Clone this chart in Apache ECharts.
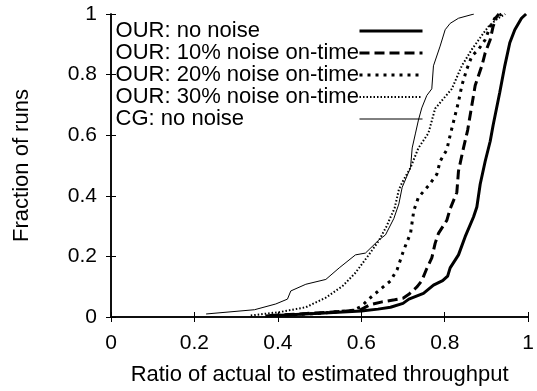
<!DOCTYPE html>
<html>
<head>
<meta charset="utf-8">
<script src="https://cdn.jsdelivr.net/npm/echarts@6/dist/echarts.min.js"></script>
<style>
  html, body { margin: 0; padding: 0; background: #fff; }
  #chart { width: 537px; height: 391px; }
</style>
</head>
<body>
<div id="chart"></div>
<script>
// Cumulative fraction of runs vs. ratio of actual to estimated throughput
const seriesNames = [
  'OUR: no noise',
  'OUR: 10% noise on-time',
  'OUR: 20% noise on-time',
  'OUR: 30% noise on-time',
  'CG: no noise'
];
const tickValues = [0, 0.2, 0.4, 0.6, 0.8, 1];

const ourNoNoiseRatio = [0.37, 0.42, 0.5, 0.6, 0.64, 0.67, 0.7, 0.714, 0.749, 0.773, 0.795, 0.807, 0.813, 0.833, 0.849, 0.869, 0.877, 0.885, 0.897, 0.909, 0.916, 0.932, 0.944, 0.956, 0.968, 0.984, 0.995];
const ourNoNoiseFrac  = [0.003, 0.007, 0.012, 0.02, 0.026, 0.032, 0.045, 0.059, 0.078, 0.105, 0.12, 0.135, 0.162, 0.205, 0.265, 0.33, 0.363, 0.438, 0.514, 0.58, 0.633, 0.742, 0.829, 0.905, 0.948, 0.986, 1.0];

const our10Ratio = [0.38, 0.45, 0.55, 0.6, 0.62, 0.65, 0.68, 0.7, 0.714, 0.734, 0.745, 0.757, 0.769, 0.777, 0.785, 0.805, 0.813, 0.829, 0.833, 0.845, 0.855, 0.865, 0.873, 0.889, 0.897, 0.909, 0.916, 0.924, 0.93];
const our10Frac  = [0.005, 0.01, 0.018, 0.025, 0.04, 0.05, 0.057, 0.062, 0.075, 0.1, 0.12, 0.16, 0.195, 0.243, 0.276, 0.319, 0.357, 0.411, 0.482, 0.558, 0.617, 0.699, 0.764, 0.829, 0.872, 0.915, 0.959, 0.99, 1.0];

const our20Ratio = [0.4, 0.5, 0.58, 0.6, 0.618, 0.646, 0.67, 0.686, 0.702, 0.718, 0.726, 0.737, 0.761, 0.781, 0.789, 0.805, 0.813, 0.825, 0.833, 0.841, 0.853, 0.865, 0.881, 0.897, 0.909, 0.92, 0.936];
const our20Frac  = [0.005, 0.012, 0.022, 0.035, 0.059, 0.092, 0.119, 0.157, 0.222, 0.276, 0.352, 0.395, 0.433, 0.471, 0.514, 0.552, 0.6, 0.666, 0.71, 0.764, 0.818, 0.861, 0.883, 0.915, 0.959, 0.986, 1.0];

const our30Ratio = [0.335, 0.403, 0.467, 0.515, 0.555, 0.586, 0.618, 0.642, 0.66, 0.68, 0.69, 0.698, 0.718, 0.737, 0.761, 0.777, 0.817, 0.841, 0.865, 0.893, 0.905, 0.928, 0.945];
const our30Frac  = [0.005, 0.016, 0.032, 0.064, 0.102, 0.146, 0.205, 0.252, 0.298, 0.36, 0.42, 0.444, 0.493, 0.558, 0.607, 0.688, 0.753, 0.829, 0.883, 0.937, 0.959, 0.986, 1.0];

const cgRatio = [0.228, 0.344, 0.395, 0.423, 0.431, 0.467, 0.515, 0.547, 0.586, 0.61, 0.642, 0.658, 0.678, 0.69, 0.698, 0.718, 0.722, 0.73, 0.737, 0.745, 0.757, 0.769, 0.773, 0.789, 0.801, 0.813, 0.833, 0.87];
const cgFrac  = [0.01, 0.024, 0.043, 0.059, 0.086, 0.108, 0.124, 0.162, 0.205, 0.211, 0.254, 0.271, 0.325, 0.373, 0.428, 0.493, 0.558, 0.607, 0.65, 0.69, 0.731, 0.753, 0.829, 0.894, 0.948, 0.969, 0.986, 1.0];

const ratios = [ourNoNoiseRatio, our10Ratio, our20Ratio, our30Ratio, cgRatio];
const fracs  = [ourNoNoiseFrac, our10Frac, our20Frac, our30Frac, cgFrac];

const lineStyles = [
  { width: 3, type: 'solid' },
  { width: 3, type: [10, 5] },
  { width: 3, type: [3, 5] },
  { width: 2, type: [1.5, 2] },
  { width: 1, type: 'solid' }
];

const FONT = '"Liberation Sans", Arial, Helvetica, sans-serif';
const FS = 21;
const FS_TEXT = 22;

const pairs = (xs, ys) => xs.map((x, i) => [x, ys[i]]);

const chart = echarts.init(document.getElementById('chart'), null, { renderer: 'canvas' });

const axisCommon = {
  type: 'value', min: 0, max: 1, interval: 0.2,
  splitLine: { show: false },
  axisLine: { show: true, lineStyle: { color: '#000', width: 1.5 } },
  axisTick: { show: true, inside: true, length: 5, lineStyle: { color: '#000', width: 1 } },
  axisLabel: {
    color: '#000', fontSize: FS, fontFamily: FONT,
    formatter: v => String(tickValues.find(t => Math.abs(t - v) < 1e-9) ?? v)
  }
};

const legendText = {
  color: '#000', fontSize: FS_TEXT, fontFamily: FONT, lineHeight: 21.5
};

chart.setOption({
  animation: false,
  backgroundColor: '#fff',
  grid: { left: 111, right: 7, top: 14, bottom: 69.5, containLabel: false },
  xAxis: [
    Object.assign({}, axisCommon, {
      position: 'bottom',
      name: 'Ratio of actual to estimated throughput',
      nameLocation: 'middle', nameGap: 47,
      nameTextStyle: { color: '#000', fontSize: FS_TEXT, fontFamily: FONT },
      axisLabel: Object.assign({}, axisCommon.axisLabel, { margin: 16 })
    }),
    Object.assign({}, axisCommon, { position: 'top', axisLabel: { show: false } })
  ],
  yAxis: [
    Object.assign({}, axisCommon, {
      position: 'left',
      name: 'Fraction of runs',
      nameLocation: 'middle', nameGap: 78,
      nameTextStyle: { color: '#000', fontSize: FS_TEXT, fontFamily: FONT },
      axisLabel: Object.assign({}, axisCommon.axisLabel, { margin: 14 })
    }),
    Object.assign({}, axisCommon, { position: 'right', axisLabel: { show: false } })
  ],
  legend: [
    {
      // labels column
      orient: 'vertical', left: 105, top: 20, itemGap: 0, padding: 0,
      align: 'left', itemWidth: 0, itemHeight: 14,
      selectedMode: false,
      data: seriesNames,
      textStyle: legendText,
      lineStyle: { width: 0, opacity: 0 },
      itemStyle: { opacity: 0 }
    },
    {
      // line samples column
      orient: 'vertical', left: 358, top: 20, itemGap: 0, padding: 0,
      align: 'left', itemWidth: 63, itemHeight: 14,
      selectedMode: false,
      data: seriesNames,
      formatter: () => ' ',
      textStyle: legendText,
      lineStyle: { width: 'inherit', type: 'inherit', color: '#000', cap: 'butt' },
      itemStyle: { opacity: 0 }
    }
  ],
  series: seriesNames.map((name, i) => ({
    name: name,
    type: 'line',
    xAxisIndex: 0, yAxisIndex: 0,
    data: pairs(ratios[i], fracs[i]),
    symbol: 'none',
    color: '#000',
    lineStyle: { color: '#000', width: lineStyles[i].width, type: lineStyles[i].type, cap: 'butt' },
    itemStyle: { color: '#000' },
    z: 2
  }))
});
</script>
</body>
</html>
